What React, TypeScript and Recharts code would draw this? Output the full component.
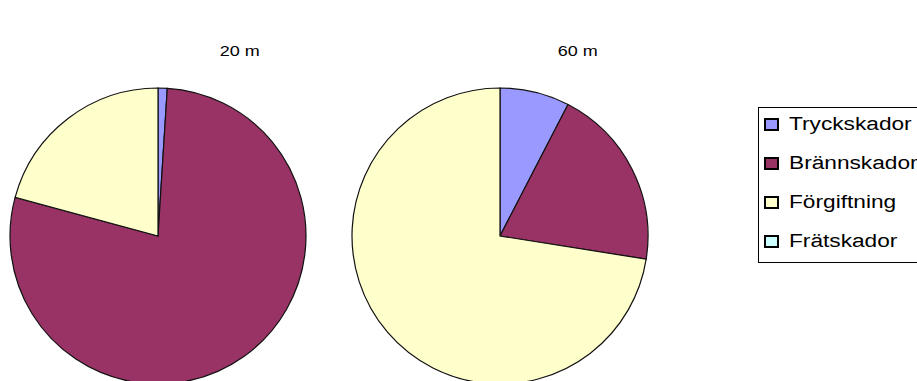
import React from 'react';
import { PieChart, Pie, Cell, Legend } from 'recharts';

const categories = ['Tryckskador', 'Brännskador', 'Förgiftning', 'Frätskador'];
const colors = ['#9999FF', '#993366', '#FFFFCC', '#CCFFFF'];
const values20m = [1.0, 78.2, 20.8, 0];
const values60m = [7.6, 19.9, 72.5, 0];
const titles = ['20 m', '60 m'];

const data20 = categories.map((name, i) => ({ name, value: values20m[i] }));
const data60 = categories.map((name, i) => ({ name, value: values60m[i] }));

const FONT = 'Arial, "Liberation Sans", sans-serif';

const renderLegend = () => (
  <div
    style={{
      position: 'relative',
      border: '1px solid #000',
      width: 175,
      height: 156,
      boxSizing: 'border-box',
      background: '#fff',
      fontFamily: FONT,
      fontSize: 18,
      color: '#000',
    }}
  >
    {categories.map((c, i) => (
      <div
        key={c}
        style={{ position: 'absolute', left: 5, top: 6 + 39 * i, height: 20, lineHeight: '20px', whiteSpace: 'nowrap' }}
      >
        <span
          style={{
            position: 'absolute',
            left: 0,
            top: 4,
            width: 11,
            height: 9,
            border: '2px solid #000',
            background: colors[i],
          }}
        />
        <span
          style={{
            position: 'absolute',
            left: 25,
            top: 0,
            display: 'inline-block',
            transform: 'scaleX(1.26)',
            transformOrigin: 'left center',
          }}
        >
          {c}
        </span>
      </div>
    ))}
  </div>
);

export default function App() {
  return (
    <div style={{ position: 'absolute', left: 0, top: 0, width: 917, height: 381, overflow: 'hidden', background: '#fff' }}>
      <PieChart width={917} height={381} margin={{ top: 0, right: 0, bottom: 0, left: 0 }}>
        <Pie
          data={data20}
          dataKey="value"
          nameKey="name"
          cx={158}
          cy={236}
          outerRadius={148}
          startAngle={90}
          endAngle={-270}
          stroke="#111"
          strokeWidth={1.2}
          isAnimationActive={false}
          legendType="none"
        >
          {data20.map((d, i) => (
            <Cell key={d.name} fill={colors[i]} />
          ))}
        </Pie>
        <Pie
          data={data60}
          dataKey="value"
          nameKey="name"
          cx={500}
          cy={236}
          outerRadius={148}
          startAngle={90}
          endAngle={-270}
          stroke="#111"
          strokeWidth={1.2}
          isAnimationActive={false}
          legendType="none"
        >
          {data60.map((d, i) => (
            <Cell key={d.name} fill={colors[i]} />
          ))}
        </Pie>
        <Legend content={renderLegend} wrapperStyle={{ position: 'absolute', left: 758, top: 107, width: 175, height: 156 }} />
      </PieChart>
      {titles.map((t, i) => (
        <div
          key={t}
          style={{
            position: 'absolute',
            left: i === 0 ? 240 - 40 : 578 - 40,
            width: 80,
            top: 42,
            textAlign: 'center',
            fontFamily: FONT,
            fontSize: 15,
            color: '#000',
          }}
        >
          <span style={{ display: 'inline-block', transform: 'scaleX(1.2)' }}>{t}</span>
        </div>
      ))}
    </div>
  );
}
